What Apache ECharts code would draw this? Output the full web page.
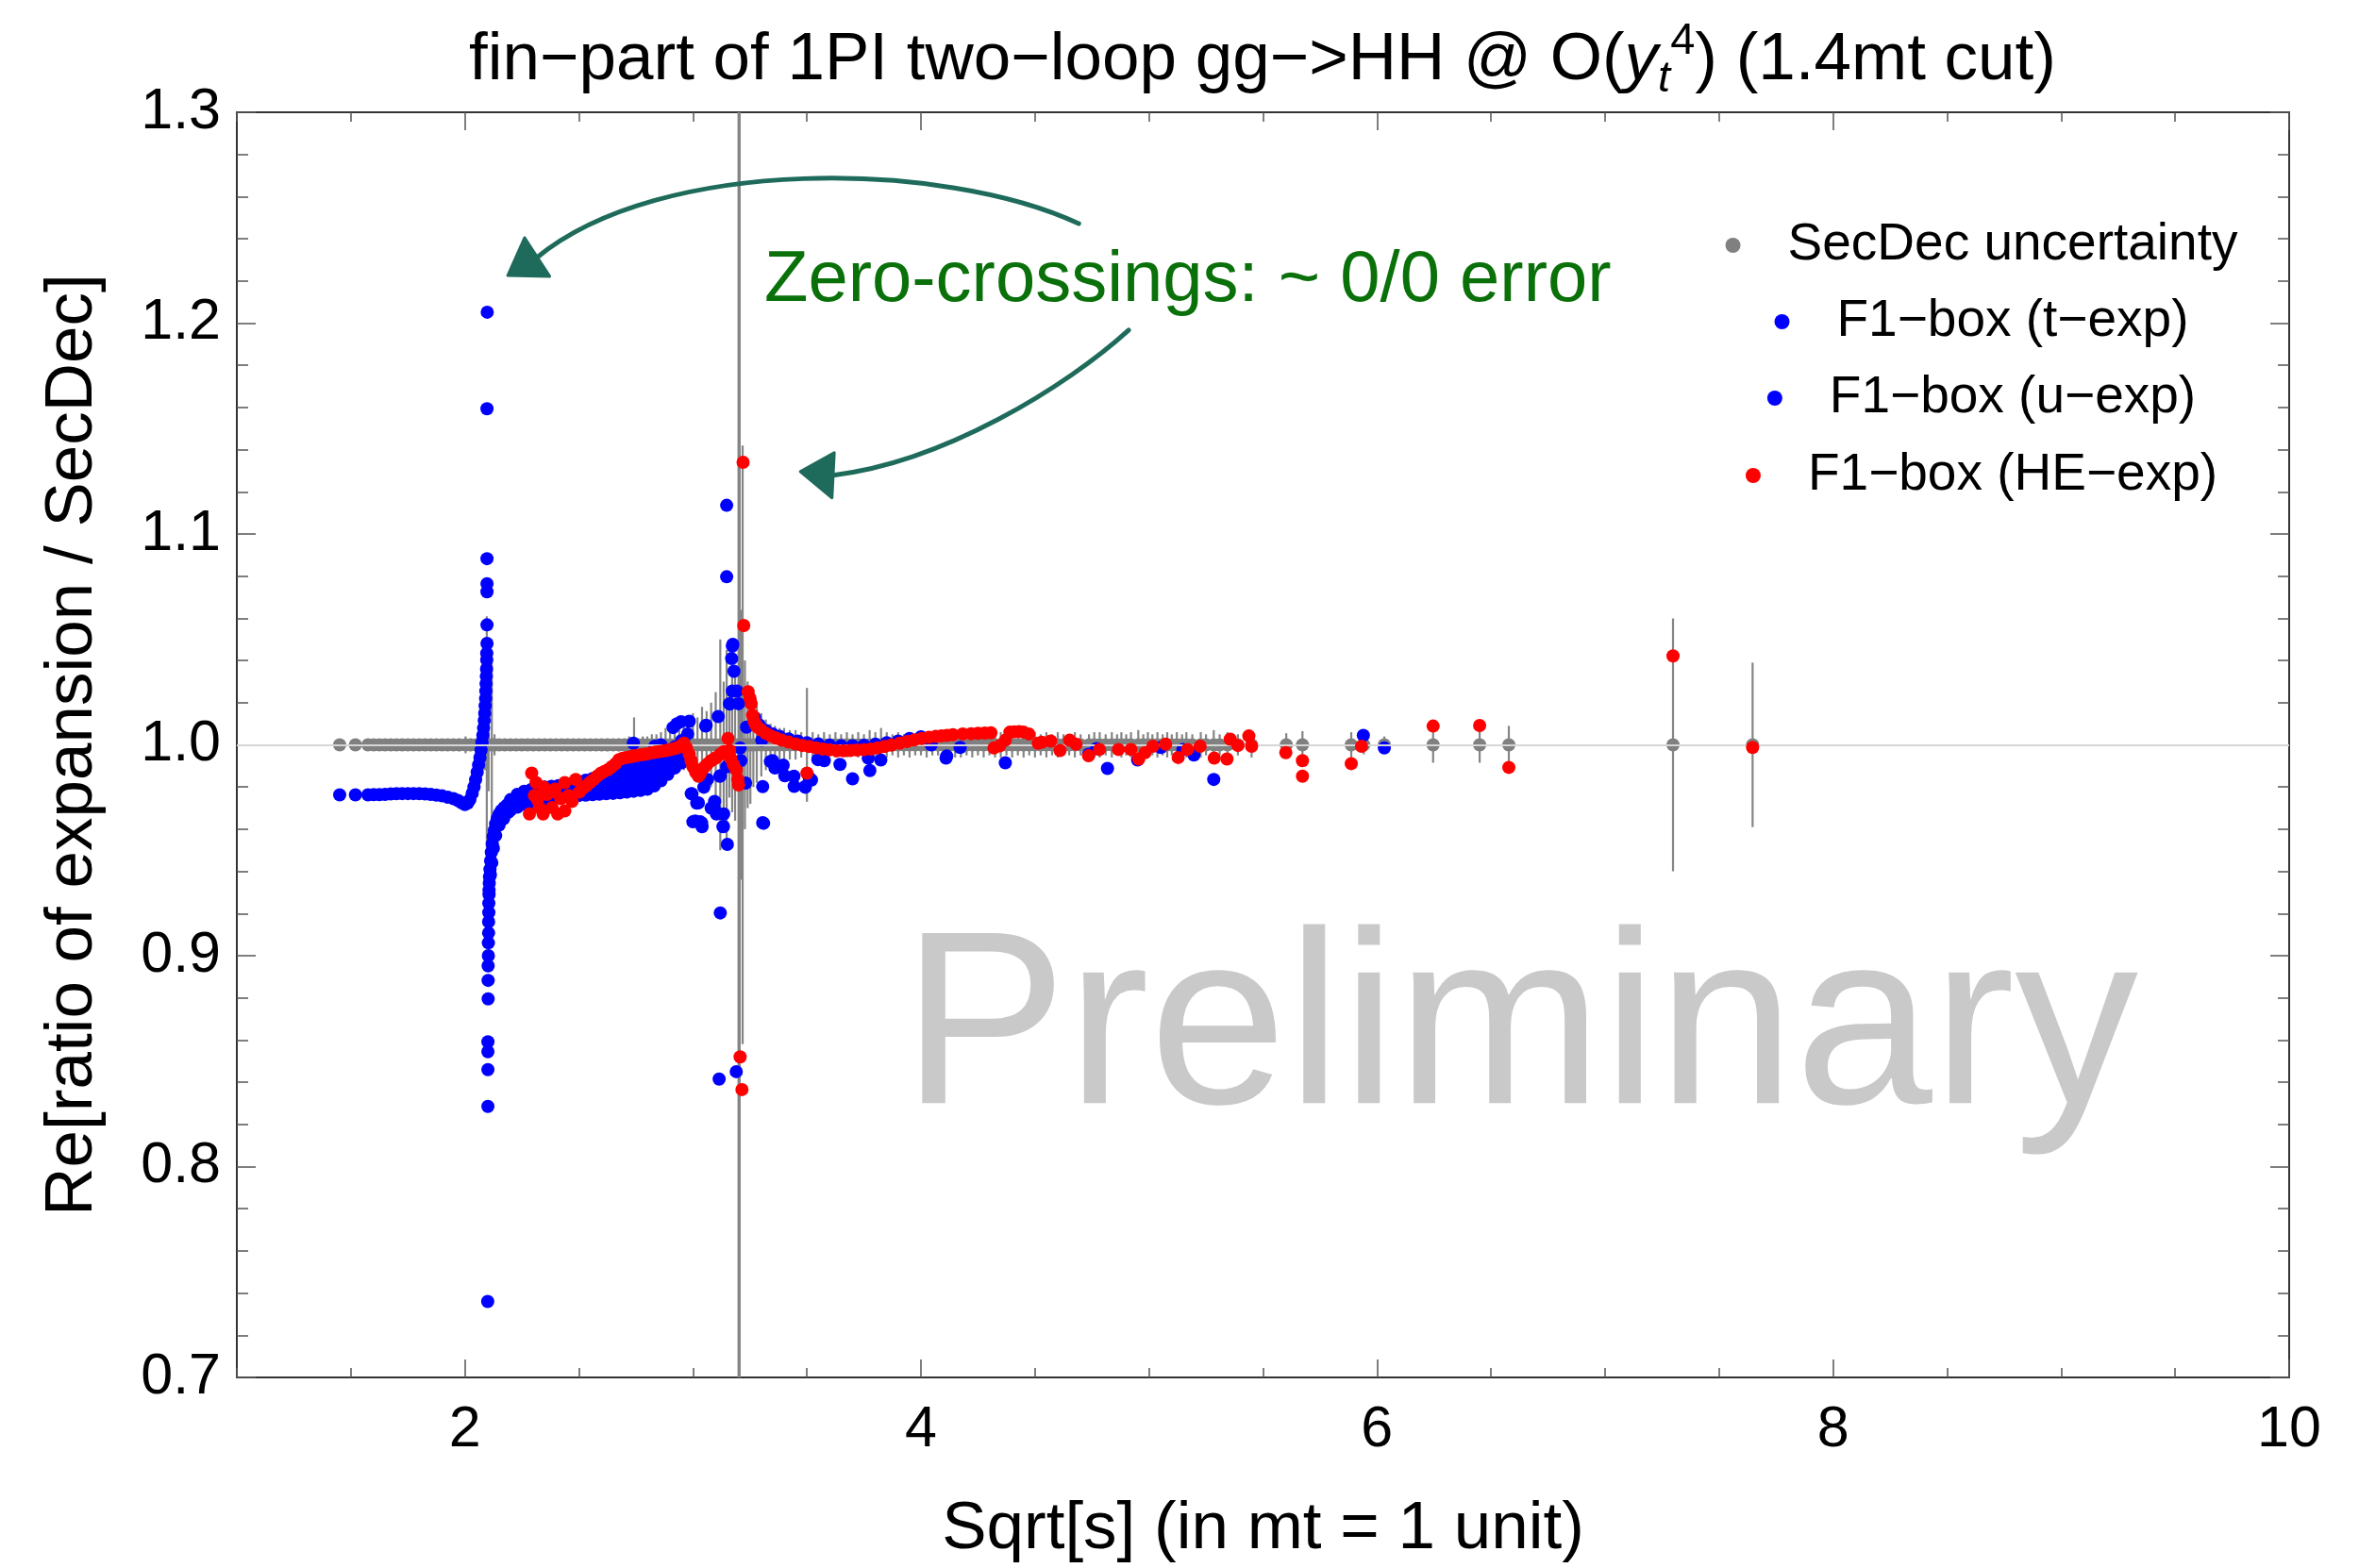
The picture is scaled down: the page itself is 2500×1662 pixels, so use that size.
<!DOCTYPE html>
<html>
<head>
<meta charset="utf-8">
<script src="https://cdn.jsdelivr.net/npm/echarts@6/dist/echarts.min.js"></script>
<style>
  html, body { margin: 0; padding: 0; background: #fff; }
  #chart { width: 2500px; height: 1662px; }
</style>
</head>
<body>
<div id="chart"></div>
<script>
const FONT = '"Liberation Sans", Arial, sans-serif'

const xMajorTicks = [2, 4, 6, 8, 10]

// SecDec reference points: the ratio is 1 by construction, stored as [sqrt(s), uncertainty]
const secdec = [
  [1.451,.002],[1.520,.002],[1.575,.002],[1.600,.002],[1.625,.002],[1.650,.002],[1.675,.002],[1.700,.002],
  [1.725,.002],[1.750,.002],[1.775,.002],[1.800,.002],[1.825,.002],[1.850,.002],[1.875,.002],[1.900,.002],
  [1.925,.002],[1.950,.002],[1.975,.003],[2.003,.004],[2.025,.003],[2.050,.003],[2.072,.006],[2.088,.012],
  [2.096,.061],[2.104,.022],[2.118,.039],[2.130,.005],[2.150,.002],[2.175,.002],[2.200,.002],[2.225,.002],
  [2.250,.002],[2.275,.002],[2.300,.002],[2.325,.002],[2.350,.002],[2.375,.002],[2.400,.002],[2.425,.002],
  [2.450,.002],[2.475,.002],[2.500,.002],[2.525,.002],[2.550,.002],[2.575,.002],[2.600,.002],[2.625,.003],
  [2.650,.002],[2.675,.003],[2.700,.003],[2.720,.004],[2.742,.013],[2.760,.003],[2.780,.004],[2.800,.004],
  [2.820,.005],[2.840,.005],[2.860,.006],[2.880,.008],[2.900,.007],[2.920,.010],[2.940,.009],[2.960,.012],
  [2.980,.011],[3.000,.015],[3.020,.013],[3.040,.018],[3.060,.016],[3.080,.020],[3.100,.025],[3.120,.050],
  [3.135,.030],[3.148,.045],[3.160,.025],[3.172,.032],[3.185,.036],[3.200,.400],[3.205,.400],[3.212,.064],
  [3.218,.142],[3.228,.040],[3.240,.030],[3.252,.028],[3.265,.020],[3.280,.018],[3.300,.015],[3.320,.012],
  [3.340,.010],[3.360,.009],[3.380,.008],[3.400,.008],[3.425,.007],[3.450,.007],[3.475,.006],[3.500,.027],
  [3.525,.006],[3.550,.005],[3.575,.006],[3.600,.005],[3.625,.006],[3.650,.005],[3.675,.006],[3.700,.005],
  [3.725,.006],[3.750,.005],[3.775,.007],[3.800,.006],[3.825,.008],[3.850,.006],[3.875,.005],[3.900,.006],
  [3.925,.005],[3.950,.006],[3.975,.005],[4.000,.005],[4.025,.006],[4.050,.005],[4.075,.005],[4.100,.006],
  [4.125,.005],[4.150,.006],[4.175,.006],[4.200,.005],[4.225,.006],[4.250,.005],[4.275,.006],[4.300,.005],
  [4.325,.006],[4.350,.006],[4.375,.005],[4.400,.006],[4.425,.005],[4.450,.006],[4.475,.005],[4.500,.006],
  [4.525,.005],[4.550,.006],[4.575,.005],[4.600,.006],[4.625,.005],[4.650,.005],[4.675,.006],[4.700,.005],
  [4.737,.005],[4.760,.006],[4.784,.006],[4.810,.005],[4.837,.006],[4.860,.005],[4.879,.006],[4.900,.005],
  [4.921,.006],[4.953,.007],[4.975,.005],[4.995,.006],[5.015,.005],[5.037,.006],[5.060,.005],[5.080,.006],
  [5.100,.005],[5.122,.006],[5.145,.005],[5.164,.006],[5.190,.005],[5.227,.006],[5.250,.005],[5.284,.007],
  [5.310,.005],[5.344,.006],[5.390,.005],[5.450,.006],[5.602,.0055],[5.673,.0065],[5.887,.006],[5.942,.0045],
  [6.032,.004],[6.246,.0085],[6.450,.0085],[6.578,.009],[7.298,.060],[7.647,.039]
]

// F1-box (t-exp): plateau, threshold pole and lower branch
const tExpPole = [
  [1.451,0.9763],[1.520,0.9763],[1.575,0.9763],[1.600,0.9764],[1.625,0.9764],[1.650,0.9765],[1.675,0.9767],
  [1.700,0.9768],[1.725,0.9769],[1.750,0.9769],[1.775,0.9769],[1.800,0.9768],[1.825,0.9767],[1.850,0.9765],
  [1.875,0.9762],[1.900,0.9758],[1.925,0.9752],[1.950,0.9745],[1.970,0.9736],[1.985,0.9726],[2.000,0.9717],
  [2.012,0.9724],[2.022,0.9740],[2.032,0.9770],[2.040,0.9800],[2.047,0.9835],[2.054,0.9870],[2.060,0.9905],
  [2.066,0.9940],[2.071,0.9975],[2.075,1.0010],[2.079,1.0045],[2.082,1.0080],[2.085,1.0115],[2.087,1.0150],
  [2.089,1.0185],[2.091,1.0220],[2.092,1.0255],[2.093,1.0290],[2.094,1.0325],[2.095,1.0360],[2.096,1.0403],
  [2.096,1.0434],[2.097,1.0481],[2.097,1.0569],[2.097,1.0726],[2.097,1.0764],[2.097,1.0883],[2.097,1.1594],
  [2.098,1.2052],
  [2.100,0.7360],[2.101,0.8285],[2.101,0.8460],[2.101,0.8545],[2.101,0.8592],[2.102,0.8795],[2.102,0.8883],
  [2.102,0.8952],[2.103,0.9000],[2.103,0.9061],[2.104,0.9108],[2.104,0.9161],[2.105,0.9205],[2.105,0.9249],
  [2.106,0.9290],[2.106,0.9311],[2.107,0.9345],[2.108,0.9374],[2.110,0.9410],[2.113,0.9450],[2.116,0.9490],
  [2.120,0.9530],[2.124,0.9565],[2.129,0.9595],[2.135,0.9625],[2.142,0.9650],[2.150,0.9670],[2.160,0.9688],
  [2.172,0.9703],[2.186,0.9716],[2.112,0.9385],[2.118,0.9440],[2.125,0.9510],[2.135,0.9570],[2.150,0.9620],
  [2.170,0.9650],[2.190,0.9680]
]

// t-exp band above threshold, sampled on common sqrt(s) values (upper edge to lower edge)
const tExpBandX = [2.20,2.23,2.26,2.29,2.32,2.35,2.38,2.41,2.44,2.47,2.50,2.53,2.56,2.59,2.62,2.65,2.68,2.71,2.74,2.77,2.80,2.83,2.86,2.89,2.92,2.95]
const tExpBandUpper = [.9740,.9765,.9780,.9788,.9795,.9800,.9803,.9806,.9810,.9816,.9824,.9832,.9840,.9850,.9858,.9866,.9874,.9882,.9890,.9900,.9912,.9925,.9948,.9970,.9990,1.0020]
const tExpBandUpperMid = [.9723,.9745,.9759,.9768,.9775,.9781,.9785,.9788,.9792,.9797,.9803,.9809,.9815,.9822,.9828,.9834,.9840,.9847,.9853,.9861,.9871,.9885,.9909,.9933,.9957,.9985]
const tExpBandLowerMid = [.9707,.9725,.9739,.9748,.9755,.9761,.9766,.9770,.9773,.9777,.9781,.9785,.9789,.9794,.9798,.9802,.9807,.9811,.9817,.9823,.9831,.9845,.9869,.9897,.9923,.9950]
const tExpBandLower = [.9690,.9705,.9718,.9728,.9735,.9742,.9748,.9752,.9755,.9758,.9760,.9762,.9764,.9766,.9768,.9770,.9773,.9776,.9780,.9784,.9790,.9805,.9830,.9860,.9890,.9915]

// F1-box (u-exp)
const uExp = [
  [2.739,1.0008],[2.833,0.9993],[2.860,1.0000],[2.913,1.0082],[2.930,1.0100],[2.948,1.0110],[2.977,1.0052],[2.984,1.0112],
  [2.993,0.9769],[2.996,0.9767],[3.000,0.9635],[3.010,0.9639],[3.017,0.9724],[3.024,0.9725],[3.032,0.9635],[3.038,0.9630],
  [3.040,0.9612],[3.048,0.9799],[3.056,1.0089],[3.058,1.0093],[3.064,0.9836],[3.080,0.9700],[3.093,0.9700],[3.095,0.9732],
  [3.103,0.9672],[3.107,0.9674],[3.111,1.0134],[3.115,0.8415],[3.118,0.9851],[3.120,0.9203],[3.120,0.9853],[3.132,0.9612],
  [3.134,0.9613],[3.135,0.9672],[3.148,1.1136],[3.148,1.0797],[3.148,0.9896],[3.151,0.9528],[3.160,1.0195],[3.163,1.0194],
  [3.170,1.0409],[3.173,1.0469],[3.173,1.0255],[3.175,1.0477],[3.180,1.0349],[3.190,0.8450],[3.193,1.0255],[3.200,1.0195],
  [3.207,0.9985],[3.210,0.9925],[3.231,0.9819],[3.235,1.0084],
  [3.250,1.0210],[3.270,1.0130],[3.290,1.0095],[3.320,1.0068],[3.350,1.0052],[3.380,1.0040],[3.420,1.0028],[3.460,1.0018],
  [3.500,1.0010],[3.550,1.0004],[3.600,0.9999],[3.650,0.9996],[3.700,0.9996],[3.750,0.9998],[3.800,1.0003],[3.850,1.0010],
  [3.900,1.0018],[3.950,1.0030],[4.000,1.0038],
  [3.302,1.0022],[3.306,0.9802],[3.306,0.9631],[3.310,0.9628],[3.340,0.9921],[3.349,0.9925],[3.360,0.9890],[3.369,0.9896],
  [3.396,0.9904],[3.403,0.9853],[3.443,0.9851],[3.444,0.9803],[3.492,0.9802],[3.493,0.9799],[3.510,0.9844],[3.520,0.9833],
  [3.548,0.9930],[3.576,0.9925],[3.645,0.9907],[3.700,0.9839],[3.769,0.9937],[3.776,0.9878],[3.824,0.9928],
  [4.045,1.0000],[4.110,0.9937],[4.113,0.9947],[4.172,0.9988],[4.370,0.9915],[4.735,0.9955],[4.770,0.9982],[4.818,0.9888],
  [4.950,0.9928],[5.052,0.9988],[5.149,0.9978],[5.197,0.9952],[5.284,0.9836],[5.940,1.0045],[6.032,0.9985]
]

// F1-box (HE-exp)
const heExp = [
  [2.283,0.9672],[2.293,0.9866],[2.305,0.9760],[2.312,0.9821],[2.318,0.9740],[2.327,0.9702],[2.343,0.9672],[2.345,0.9800],
  [2.360,0.9765],[2.378,0.9776],[2.382,0.9702],[2.395,0.9790],[2.407,0.9672],[2.420,0.9745],[2.438,0.9687],[2.438,0.9821],
  [2.455,0.9760],[2.470,0.9732],[2.486,0.9836],[2.502,0.9776],[2.518,0.9795],[2.533,0.9806],[2.549,0.9822],[2.565,0.9836],
  [2.581,0.9852],[2.597,0.9866],[2.612,0.9874],[2.628,0.9883],[2.644,0.9896],[2.660,0.9910],[2.676,0.9930],[2.692,0.9936],
  [2.708,0.9940],[2.724,0.9943],[2.740,0.9947],[2.756,0.9950],[2.772,0.9953],[2.787,0.9955],[2.803,0.9958],[2.819,0.9962],
  [2.835,0.9965],[2.851,0.9968],[2.866,0.9970],[2.882,0.9973],[2.898,0.9977],[2.914,0.9981],[2.930,0.9985],[2.946,0.9995],
  [2.961,1.0008],[2.972,0.9985],[2.984,0.9955],[2.992,0.9925],[3.000,0.9896],[3.012,0.9870],[3.024,0.9851],[3.032,0.9862],
  [3.040,0.9881],[3.052,0.9896],[3.064,0.9910],[3.080,0.9925],[3.095,0.9935],[3.103,0.9940],[3.120,0.9955],[3.135,0.9968],
  [3.154,1.0030],[3.161,0.9973],[3.166,0.9935],[3.178,0.9905],[3.190,0.9881],[3.197,0.9836],[3.200,0.9810],[3.207,0.8520],
  [3.215,0.8365],[3.220,1.1340],[3.223,1.0566],[3.242,1.0252],[3.250,1.0222],[3.256,1.0195],[3.262,1.0140],[3.268,1.0112],
  [3.275,1.0095],[3.285,1.0082],[3.300,1.0070],[3.320,1.0055],[3.340,1.0043],[3.365,1.0032],[3.390,1.0022],[3.420,1.0013],
  [3.450,1.0004],[3.480,0.9997],[3.500,0.9866],[3.510,0.9992],[3.540,0.9986],[3.570,0.9980],[3.600,0.9976],[3.631,0.9972],
  [3.660,0.9972],[3.690,0.9973],[3.720,0.9975],[3.750,0.9977],[3.780,0.9980],[3.810,0.9985],[3.840,0.9992],[3.870,0.9999],
  [3.907,1.0008],[3.940,1.0016],[3.970,1.0023],[4.003,1.0030],[4.035,1.0036],[4.065,1.0040],[4.090,1.0043],[4.114,1.0045],
  [4.140,1.0048],[4.183,1.0052],[4.220,1.0053],[4.250,1.0055],[4.280,1.0056],[4.307,1.0057],[4.320,0.9985],[4.345,0.9995],
  [4.370,1.0022],[4.390,1.0060],[4.410,1.0062],[4.431,1.0063],[4.450,1.0060],[4.473,1.0052],[4.514,1.0008],[4.530,1.0012],
  [4.569,1.0018],[4.610,0.9973],[4.652,1.0022],[4.680,1.0003],[4.735,0.9948],[4.783,0.9978],[4.866,0.9978],[4.921,0.9978],
  [4.955,0.9933],[4.983,0.9963],[5.017,0.9993],[5.073,1.0003],[5.128,0.9940],[5.169,0.9978],[5.224,0.9993],[5.286,0.9937],
  [5.342,0.9933],[5.356,1.0027],[5.390,0.9997],[5.438,1.0042],[5.450,0.9993],[5.600,0.9963],[5.673,0.9925],[5.673,0.9851],
  [5.887,0.9911],[5.932,0.9993],[6.246,1.0089],[6.450,1.0092],[6.578,0.9893],[7.298,1.0422],[7.647,0.9988]
]

const legendNames = ['SecDec uncertainty', 'F1\u2212box (t\u2212exp)', 'F1\u2212box (u\u2212exp)', 'F1\u2212box (HE\u2212exp)']
const seriesColors = ['#808080', '#0000ff', '#0000ff', '#ff0000']

// annotation arrows in data coordinates: start, control 1, control 2, end, then arrowhead tip / base corners
const arrowUpper = { curve: [[4.692,1.2472],[4.100,1.2772],[2.858,1.2794],[2.316,1.2311]], head: [[2.188,1.2226],[2.262,1.2405],[2.372,1.2222]] }
const arrowLower = { curve: [[4.911,1.1967],[4.638,1.1699],[4.100,1.1341],[3.616,1.1279]], head: [[3.471,1.1296],[3.620,1.1386],[3.610,1.1171]] }

const tExp = tExpPole.concat(
  ...[tExpBandUpper, tExpBandUpperMid, tExpBandLowerMid, tExpBandLower].map(row => row.map((y, i) => [tExpBandX[i], y]))
)

const frameColor = '#333'
const tickColor = '#555'
const tickFont = 61
const axisNameFont = 71

function majorXAxis(position, showLabels) {
  return {
    type: 'value', position, min: 1, max: 10, splitNumber: 5, gridIndex: 0,
    axisLine: { show: true, onZero: false, lineStyle: { color: frameColor, width: 2 } },
    axisTick: { show: true, inside: true, length: 19, customValues: xMajorTicks, lineStyle: { color: tickColor, width: 1.5 } },
    axisLabel: { show: showLabels, customValues: xMajorTicks, margin: 26, fontSize: tickFont, color: '#000', fontFamily: FONT },
    splitLine: { show: false },
    name: showLabels ? 'Sqrt[s] (in mt = 1 unit)' : '',
    nameLocation: 'middle', nameGap: 126,
    nameTextStyle: { fontSize: axisNameFont, color: '#000', fontFamily: FONT },
  }
}

function minorXAxis(position) {
  return {
    type: 'value', position, min: 1, max: 10, interval: 0.5, gridIndex: 0,
    axisLine: { show: false, onZero: false },
    axisTick: { show: true, inside: true, length: 10, lineStyle: { color: tickColor, width: 1.5 } },
    axisLabel: { show: false },
    splitLine: { show: false },
  }
}

function yAxisFrame(position, showLabels) {
  return {
    type: 'value', position, min: 0.7, max: 1.3, interval: 0.1, gridIndex: 0,
    axisLine: { show: true, onZero: false, lineStyle: { color: frameColor, width: 2 } },
    axisTick: { show: true, inside: true, length: 20, lineStyle: { color: tickColor, width: 1.5 } },
    minorTick: { show: true, splitNumber: 5, length: 12, lineStyle: { color: tickColor, width: 1.5 } },
    axisLabel: { show: showLabels, formatter: v => v.toFixed(1), margin: 17, fontSize: tickFont, color: '#000', fontFamily: FONT },
    splitLine: { show: false },
    minorSplitLine: { show: false },
    name: showLabels ? 'Re[ratio of expansion / SecDec]' : '',
    nameLocation: 'middle', nameGap: 138, nameRotate: 90,
    nameTextStyle: { fontSize: axisNameFont, color: '#000', fontFamily: FONT },
  }
}

function renderErrorBar(params, api) {
  const x = api.value(0)
  const top = api.coord([x, api.value(1) + api.value(2)])
  const bottom = api.coord([x, api.value(1) - api.value(2)])
  return {
    type: 'line',
    shape: { x1: top[0], y1: top[1], x2: bottom[0], y2: bottom[1] },
    style: { stroke: '#858585', lineWidth: 2.2 },
  }
}

const chart = echarts.init(document.getElementById('chart'), null, { renderer: 'canvas' })

const scatterBase = { type: 'scatter', symbol: 'circle', symbolSize: 14, xAxisIndex: 0, yAxisIndex: 0, silent: true }

chart.setOption({
  animation: false,
  backgroundColor: '#fff',
  title: {
    text: '{a|fin\u2212part of 1PI two\u2212loop gg\u2212>HH @ O(}{y|y}{s|t}{p|4}{a|) (1.4mt cut)}',
    left: 1338, top: 21, textAlign: 'center', padding: 0,
    textStyle: {
      fontFamily: FONT, fontSize: 71, color: '#000', fontWeight: 'normal',
      rich: {
        a: { fontFamily: FONT, fontSize: 71, lineHeight: 86, color: '#000' },
        y: { fontFamily: FONT, fontSize: 71, lineHeight: 86, fontStyle: 'italic', color: '#000' },
        s: { fontFamily: FONT, fontSize: 47, lineHeight: 53, fontStyle: 'italic', verticalAlign: 'bottom', color: '#000' },
        p: { fontFamily: FONT, fontSize: 47, lineHeight: 20, verticalAlign: 'top', color: '#000' },
      },
    },
  },
  grid: { left: 251, right: 74, top: 119, bottom: 201, containLabel: false },
  xAxis: [majorXAxis('bottom', true), minorXAxis('bottom'), majorXAxis('top', false), minorXAxis('top')],
  yAxis: [yAxisFrame('left', true), yAxisFrame('right', false)],
  series: [
    {
      name: legendNames[0], type: 'custom', renderItem: renderErrorBar, clip: true, z: 2, silent: true,
      encode: { x: 0, y: 1 },
      data: secdec.map(([x, err]) => [x, 1, err]),
      markLine: {
        silent: true, symbol: 'none', label: { show: false },
        lineStyle: { color: '#d6d6d6', width: 2, type: 'solid' },
        data: [{ yAxis: 1 }],
      },
    },
    { ...scatterBase, name: legendNames[0], z: 3, itemStyle: { color: seriesColors[0], opacity: 1 }, data: secdec.map(([x]) => [x, 1]) },
    { ...scatterBase, name: legendNames[1], z: 4, itemStyle: { color: seriesColors[1], opacity: 1 }, data: tExp },
    { ...scatterBase, name: legendNames[2], z: 4, itemStyle: { color: seriesColors[2], opacity: 1 }, data: uExp },
    { ...scatterBase, name: legendNames[3], z: 5, itemStyle: { color: seriesColors[3], opacity: 1 }, data: heExp },
  ],
})

// annotations: legend, watermark, note and hand-drawn arrows
const measure = document.createElement('canvas').getContext('2d')
function textWidth(str, size) {
  measure.font = `${size}px ${FONT}`
  return measure.measureText(str).width
}

const legendCenterX = 2133
const legendRowY = [260, 341, 422, 504]
const legendFont = 55

const graphics = []
legendNames.forEach((name, i) => {
  const w = textWidth(name, legendFont)
  graphics.push({
    type: 'circle', shape: { cx: legendCenterX - w / 2 - 58, cy: legendRowY[i], r: 8 },
    style: { fill: seriesColors[i] }, z: 10,
  })
  graphics.push({
    type: 'text', x: legendCenterX, y: legendRowY[i], z: 10,
    style: { text: name, font: `${legendFont}px ${FONT}`, fill: '#000', align: 'center', verticalAlign: 'middle' },
  })
})

graphics.push({
  type: 'text', x: 1611, y: 1097, z: 0,
  style: { text: 'Preliminary', font: `262px ${FONT}`, fill: '#c9c9c9', align: 'center', verticalAlign: 'middle' },
})
graphics.push({
  type: 'text', x: 810, y: 298, z: 10,
  style: { text: 'Zero-crossings: ~ 0/0 error', font: `76px ${FONT}`, fill: '#0a700a', align: 'left', verticalAlign: 'middle' },
})

const arrowColor = '#1f6b5b'
for (const arrow of [arrowUpper, arrowLower]) {
  const c = arrow.curve.map(p => chart.convertToPixel({ gridIndex: 0 }, p))
  const h = arrow.head.map(p => chart.convertToPixel({ gridIndex: 0 }, p))
  graphics.push({
    type: 'bezierCurve', z: 10,
    shape: { x1: c[0][0], y1: c[0][1], cpx1: c[1][0], cpy1: c[1][1], cpx2: c[2][0], cpy2: c[2][1], x2: c[3][0], y2: c[3][1] },
    style: { stroke: arrowColor, lineWidth: 5, fill: null, lineCap: 'round' },
  })
  graphics.push({
    type: 'polygon', z: 10,
    shape: { points: h },
    style: { fill: arrowColor, stroke: arrowColor, lineWidth: 3, lineJoin: 'round' },
  })
}

chart.setOption({ graphic: graphics })
</script>
</body>
</html>
